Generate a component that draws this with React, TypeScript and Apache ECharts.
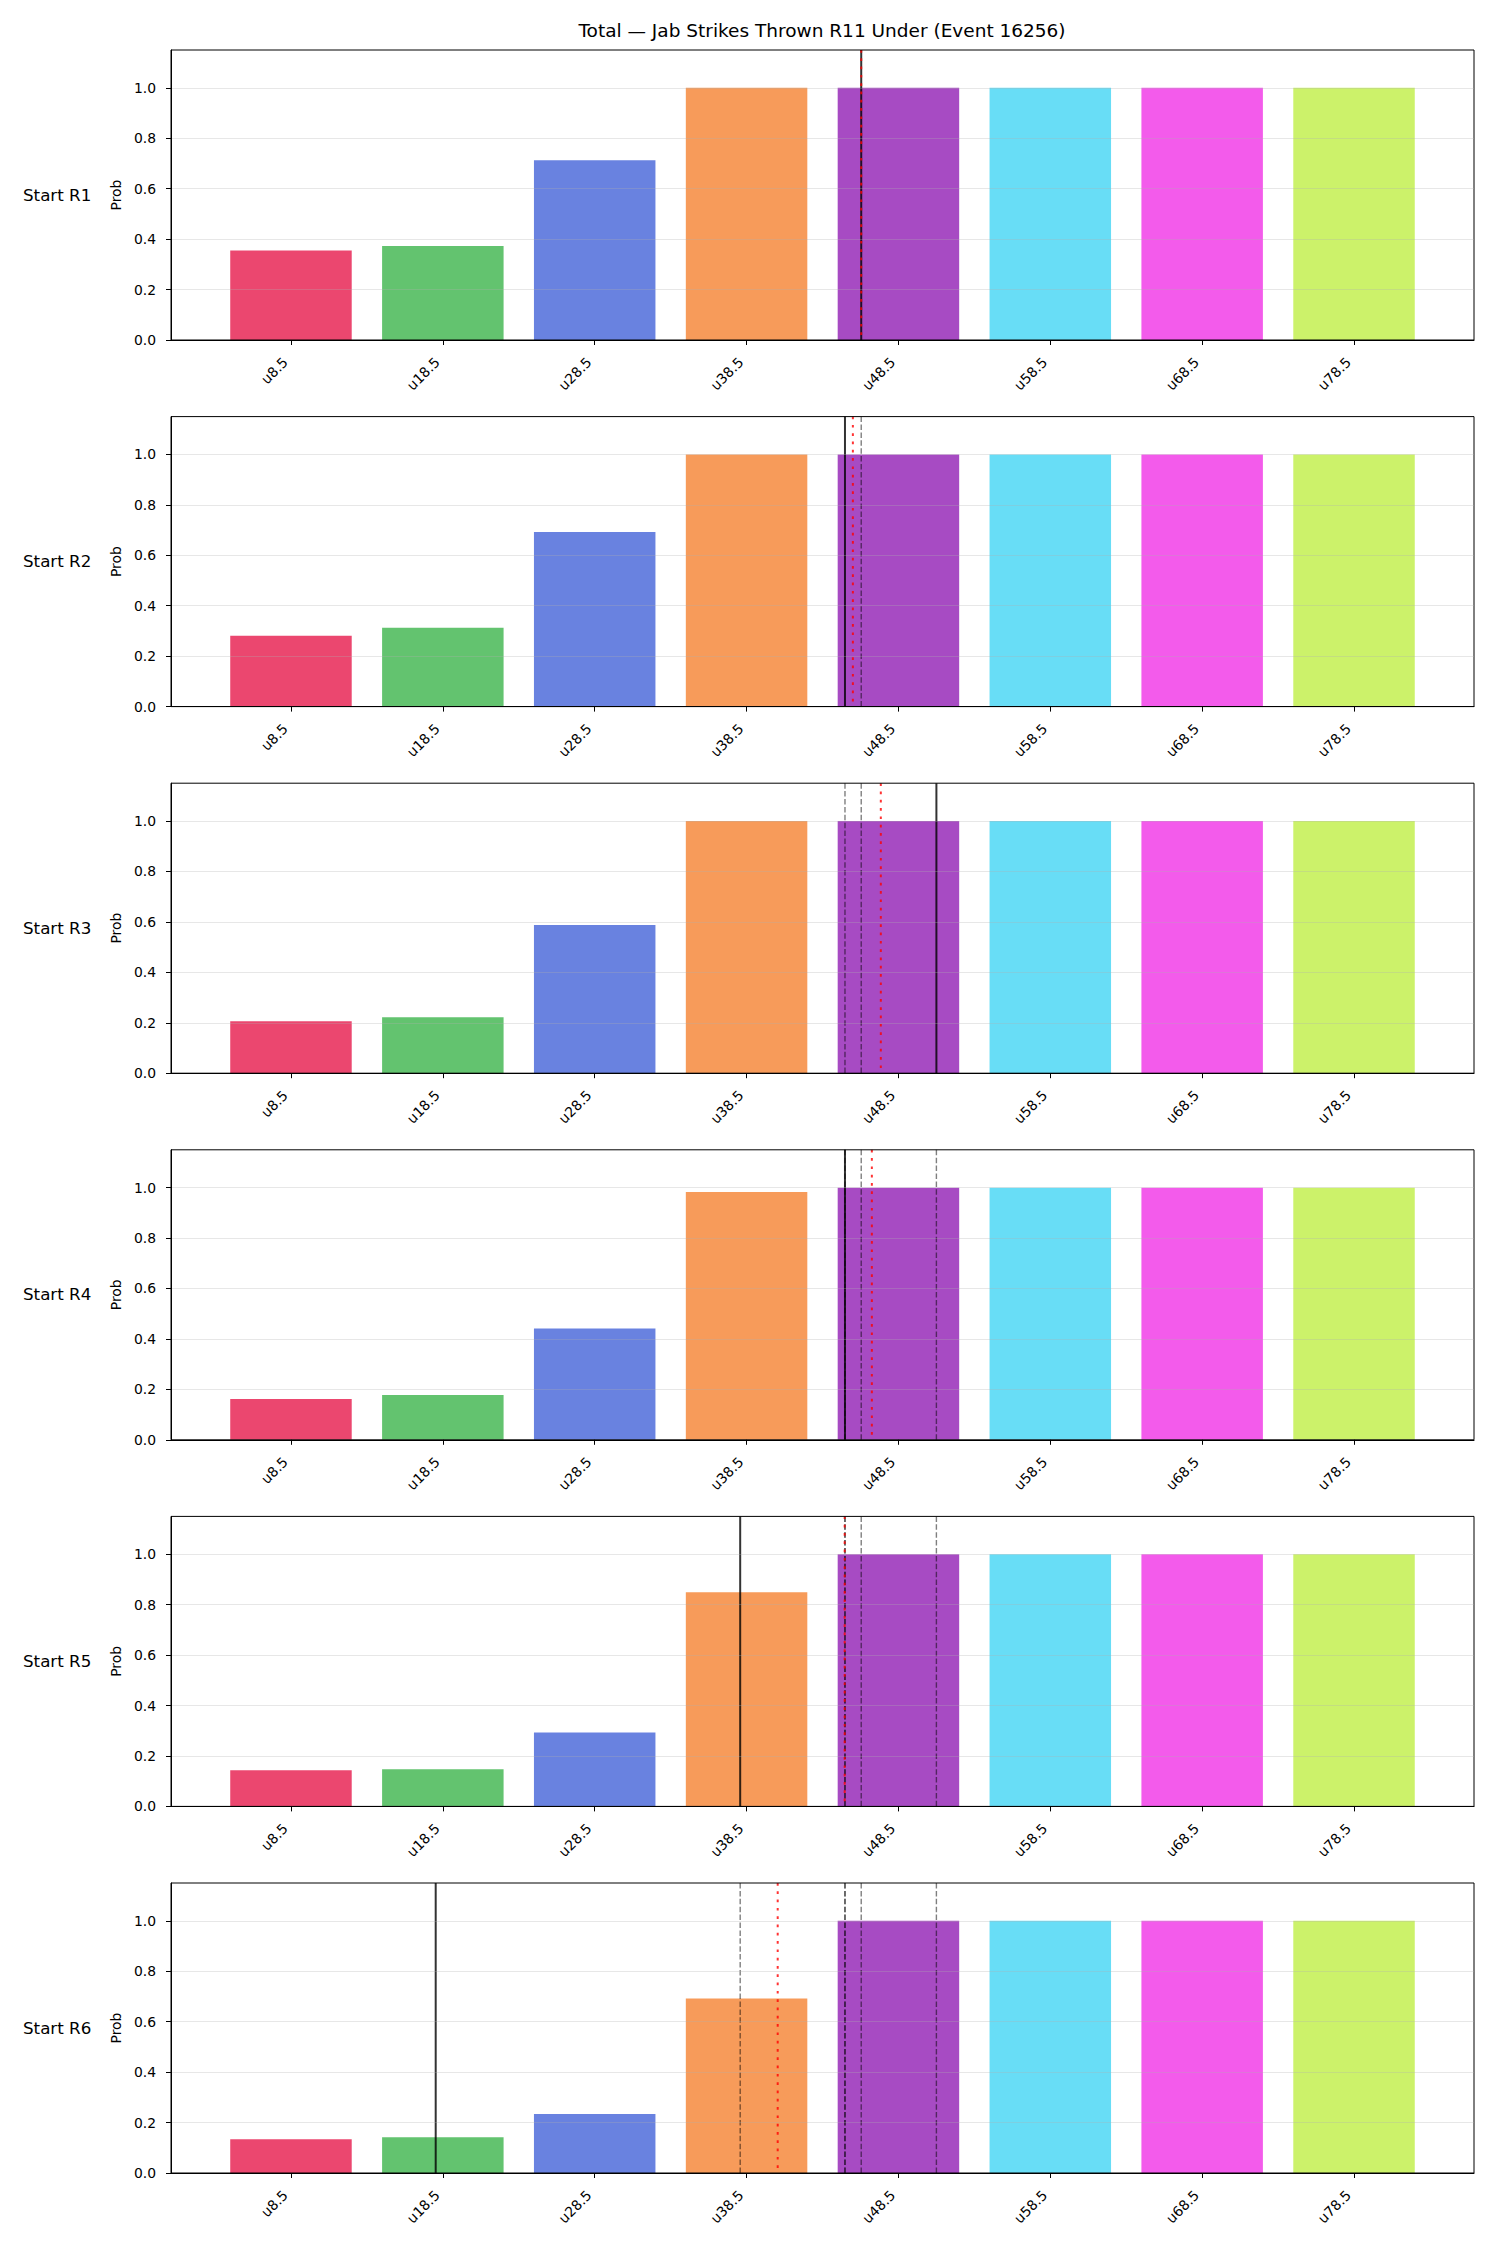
import React, { useEffect, useRef } from "react";
import * as echarts from "echarts";

const TITLE = "Total — Jab Strikes Thrown R11 Under (Event 16256)";
const categories = ["u8.5", "u18.5", "u28.5", "u38.5", "u48.5", "u58.5", "u68.5", "u78.5"];
const rowLabels = ["Start R1", "Start R2", "Start R3", "Start R4", "Start R5", "Start R6"];
const barColors = ["#e6194b", "#3cb44b", "#4363d8", "#f58231", "#911eb4", "#42d4f4", "#f032e6", "#bfef45"];

const probR1 = [0.355, 0.373, 0.713, 1.0, 1.0, 1.0, 1.0, 1.0];
const probR2 = [0.281, 0.313, 0.692, 1.0, 1.0, 1.0, 1.0, 1.0];
const probR3 = [0.206, 0.222, 0.588, 1.0, 1.0, 1.0, 1.0, 1.0];
const probR4 = [0.162, 0.178, 0.441, 0.983, 1.0, 1.0, 1.0, 1.0];
const probR5 = [0.143, 0.147, 0.293, 0.849, 1.0, 1.0, 1.0, 1.0];
const probR6 = [0.134, 0.142, 0.234, 0.692, 1.0, 1.0, 1.0, 1.0];
const probs = [probR1, probR2, probR3, probR4, probR5, probR6];

// vertical marker lines, in category-index units
const solidX = [3.755, 3.648, 4.25, 3.648, 2.958, 0.953];
const redX = [3.755, 3.7, 3.884, 3.825, 3.646, 3.205];

const yTicks = [0, 0.2, 0.4, 0.6, 0.8, 1.0];
const Y_MAX = 1.15;
const X_MIN = -0.79;
const X_MAX = 7.79;

export default function App() {
  const ref = useRef<HTMLDivElement>(null);
  useEffect(() => {
    document.body.style.margin = "0";
    if (!ref.current) return;
    const chart = echarts.init(ref.current, undefined, { renderer: "svg" });
    const font = "DejaVu Sans";
    const gridLeft = 171;
    const gridRight = 26;
    const gridHeight = 290;
    const topOf = (k: number) => 50 + k * 366.6;

    const grids: any[] = [];
    const xAxes: any[] = [];
    const yAxes: any[] = [];
    const series: any[] = [];
    const graphics: any[] = [];

    const lineSeries = (k: number, xs: number[], style: any, z: number) => ({
      type: "custom",
      xAxisIndex: k,
      yAxisIndex: k,
      z,
      silent: true,
      data: xs.map((v) => [v, 0]),
      renderItem: (params: any, api: any) => {
        const v = api.value(0);
        const t = api.coord([v, Y_MAX]);
        const b = api.coord([v, 0]);
        return {
          type: "line",
          shape: { x1: t[0], y1: t[1], x2: b[0], y2: b[1] },
          style,
        };
      },
    });

    probs.forEach((vals, k) => {
      const top = topOf(k);
      grids.push({
        left: gridLeft,
        right: gridRight,
        top,
        height: gridHeight,
        show: true,
        borderColor: "#000",
        borderWidth: 1,
        backgroundColor: "transparent",
        z: 10,
      });
      xAxes.push({
        type: "value",
        gridIndex: k,
        min: X_MIN,
        max: X_MAX,
        z: 10,
        axisLine: { show: true, onZero: false, lineStyle: { color: "#000", width: 1 } },
        axisTick: { show: true, length: 5, lineStyle: { color: "#000" }, customValues: categories.map((_, i) => i) },
        axisLabel: {
          customValues: categories.map((_, i) => i),
          formatter: (v: number) => categories[Math.round(v)] ?? "",
          rotate: 45,
          margin: 14,
          padding: [0, 8, 0, 0],
          fontFamily: font,
          fontSize: 13.9,
          color: "#000",
        },
        splitLine: { show: false },
      });
      yAxes.push({
        type: "value",
        gridIndex: k,
        min: 0,
        max: Y_MAX,
        interval: 0.2,
        z: 10,
        name: "Prob",
        nameLocation: "middle",
        nameGap: 48,
        nameTextStyle: { fontFamily: font, fontSize: 13.9, color: "#000" },
        axisLine: { show: true, onZero: false, lineStyle: { color: "#000", width: 1 } },
        axisTick: { show: true, length: 5, lineStyle: { color: "#000" }, customValues: yTicks },
        axisLabel: {
          customValues: yTicks,
          formatter: (v: number) => v.toFixed(1),
          margin: 15,
          fontFamily: font,
          fontSize: 13.9,
          color: "#000",
        },
        splitLine: { show: true, lineStyle: { color: "rgba(176,176,176,0.3)", width: 1.1 } },
      });
      series.push({
        type: "custom",
        xAxisIndex: k,
        yAxisIndex: k,
        z: 2,
        silent: true,
        data: vals.map((v, i) => [i, v]),
        renderItem: (params: any, api: any) => {
          const i = api.value(0);
          const v = api.value(1);
          const a = api.coord([i - 0.4, v]);
          const b = api.coord([i + 0.4, 0]);
          return {
            type: "rect",
            shape: { x: a[0], y: a[1], width: b[0] - a[0], height: b[1] - a[1] },
            style: { fill: barColors[i], opacity: 0.8 },
          };
        },
      });
      series.push(lineSeries(k, [solidX[k]], { stroke: "rgba(0,0,0,0.8)", lineWidth: 2 }, 3));
      if (k > 0) {
        series.push(
          lineSeries(k, solidX.slice(0, k), { stroke: "rgba(0,0,0,0.5)", lineWidth: 1.4, lineDash: [5.5, 2.4] }, 4)
        );
      }
      series.push(
        lineSeries(k, [redX[k]], { stroke: "rgba(255,0,0,0.8)", lineWidth: 2, lineDash: [2.7, 5.6] }, 5)
      );
      graphics.push({
        type: "text",
        left: 23,
        top: top + gridHeight / 2 - 9,
        style: { text: rowLabels[k], font: `16.7px '${font}'`, fill: "#000" },
      });
    });

    chart.setOption({
      animation: false,
      backgroundColor: "#fff",
      title: {
        text: TITLE,
        left: 822,
        top: 21,
        padding: 0,
        textAlign: "center",
        textStyle: { fontFamily: font, fontSize: 18.5, fontWeight: "normal", color: "#000" },
      },
      grid: grids,
      xAxis: xAxes,
      yAxis: yAxes,
      series,
      graphic: graphics,
    });
    return () => chart.dispose();
  }, []);
  return <div ref={ref} style={{ width: 1500, height: 2250 }} />;
}
